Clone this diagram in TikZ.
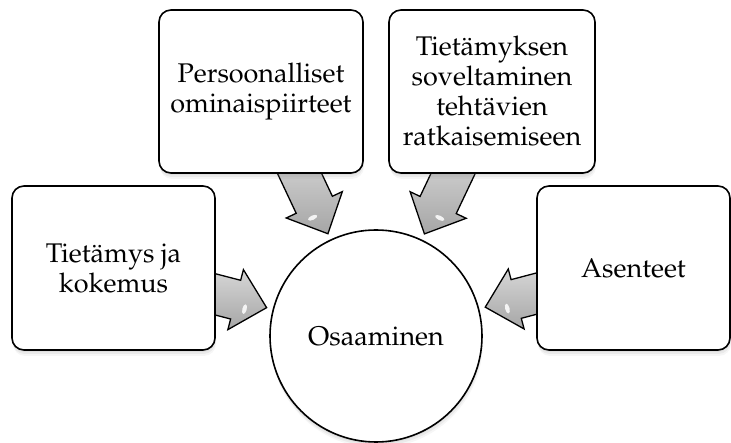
\documentclass[tikz,border=0pt]{standalone}
\usepackage[T1]{fontenc}
\usepackage{mathpazo}
\usetikzlibrary{calc,shadows,backgrounds}
\begin{document}
\begin{tikzpicture}[x=1pt,y=-1pt,
  softshadow/.style={
    drop shadow={opacity=0.10, shadow xshift=0pt, shadow yshift=-2pt},
    drop shadow={opacity=0.10, shadow xshift=0.5pt, shadow yshift=-4pt},
    drop shadow={opacity=0.07, shadow xshift=1pt, shadow yshift=-6pt}},
  txt/.style={font=\fontsize{27}{30}\selectfont},
  box/.style={draw=black, line width=1.6pt, fill=white, rounded corners=12pt,
    align=center, inner sep=0pt, txt, softshadow},
  hub/.style={circle, draw=black, line width=1.6pt, fill=white, inner sep=0pt,
    minimum size=212pt, txt, softshadow},
  blockarrow/.style={draw=black, line width=1.3pt, line join=miter,
    top color=gray!30, bottom color=gray!70},
  shine/.style={fill=white, opacity=0.85}]
\useasboundingbox (0,0) rectangle (731,443);

\node[box, minimum width=203pt, minimum height=164pt] (kok) at (113.5,268) {Tiet\"amys ja\\kokemus};
\node[box, minimum width=204pt, minimum height=163pt] (pers) at (261,91.5) {Persoonalliset\\ominaispiirteet};
\node[box, minimum width=206pt, minimum height=163pt] (sov) at (492,91.5) {Tiet\"amyksen\\soveltaminen\\teht\"avien\\ratkaisemiseen};
\node[box, minimum width=193pt, minimum height=164pt] (ase) at (633.5,268) {Asenteet};
\node[hub] (osa) at (376,336) {Osaaminen};

\newcommand\blockarr[2]{%
  \coordinate (tl) at ($(osa.center)!200pt!(#1.center)$);
  \coordinate (hb) at ($(osa.center)!145pt!(#1.center)$);
  \coordinate (tp) at ($(osa.center)!113pt!(#1.center)$);
  \draw[blockarrow] ($(tl)!20pt!90:(tp)$) -- ($(hb)!20pt!90:(tp)$) -- ($(hb)!31pt!90:(tp)$)
    -- (tp) -- ($(hb)!31pt!-90:(tp)$) -- ($(hb)!20pt!-90:(tp)$) -- ($(tl)!20pt!-90:(tp)$) -- cycle;
  \coordinate (sh) at ($($(hb)!11pt!(tp)$)!7pt!#2:(tp)$);
  \path let \p1=($(tp)-(hb)$), \n1={atan2(\y1,\x1)} in
    [shine, rotate around={\n1:(sh)}] (sh) ellipse (2.2pt and 5pt);
}
\begin{pgfonlayer}{background}
\blockarr{kok}{-90}
\blockarr{pers}{-90}
\blockarr{sov}{90}
\blockarr{ase}{90}
\end{pgfonlayer}
\end{tikzpicture}
\end{document}
